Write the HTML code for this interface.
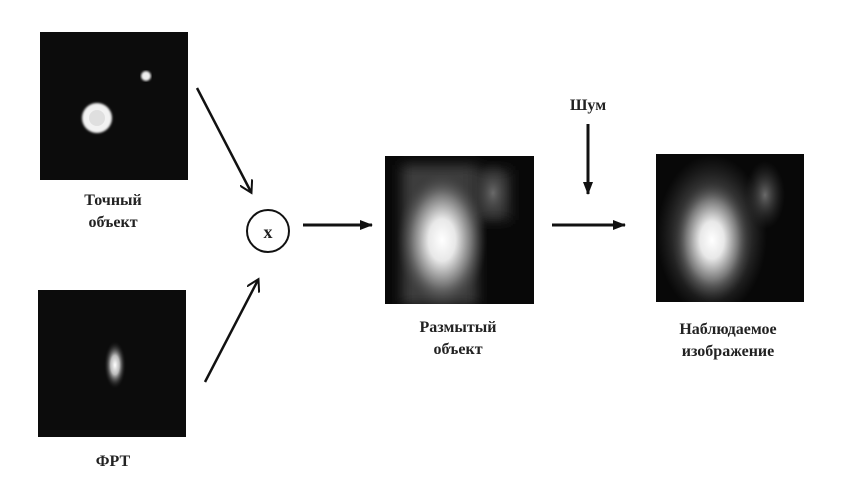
<!DOCTYPE html>
<html><head><meta charset="utf-8"><style>
html,body{margin:0;padding:0;background:#fff;}
svg{display:block;}
text{font-family:"Liberation Serif","Noto Serif CJK SC",serif;font-weight:bold;font-size:16px;fill:#222;text-anchor:middle;}
</style></head><body>
<svg width="852" height="493" viewBox="0 0 852 493">
<defs>
<radialGradient id="g1"><stop offset="0" stop-color="#fff"/><stop offset="0.3" stop-color="#e8e8e8"/><stop offset="0.65" stop-color="#777"/><stop offset="1" stop-color="#333" stop-opacity="0"/></radialGradient>
<radialGradient id="g2"><stop offset="0" stop-color="#fff"/><stop offset="0.4" stop-color="#bbb"/><stop offset="1" stop-color="#111" stop-opacity="0"/></radialGradient>
<radialGradient id="g3"><stop offset="0" stop-color="#6a6a6a"/><stop offset="1" stop-color="#333" stop-opacity="0"/></radialGradient>
<radialGradient id="g4"><stop offset="0" stop-color="#4a4a4a"/><stop offset="0.7" stop-color="#2a2a2a"/><stop offset="1" stop-color="#222" stop-opacity="0"/></radialGradient>
<filter id="bl"><feGaussianBlur stdDeviation="1"/></filter>
<filter id="bl6"><feGaussianBlur stdDeviation="6"/></filter>
<clipPath id="cb"><rect x="385" y="156" width="149" height="148"/></clipPath>
<clipPath id="co"><rect x="656" y="154" width="148" height="148"/></clipPath>
<marker id="ah" markerWidth="14" markerHeight="14" refX="11" refY="7" orient="auto" markerUnits="userSpaceOnUse"><path d="M0,0 L12,7 L0,14" fill="none" stroke="#111" stroke-width="2"/></marker>
<marker id="af" markerWidth="14" markerHeight="12" refX="12" refY="6" orient="auto" markerUnits="userSpaceOnUse"><path d="M0,1 L13,6 L0,11 Z" fill="#111"/></marker>
</defs>

<g>
<rect x="40" y="32" width="148" height="148" fill="#0c0c0c"/>
<circle cx="146" cy="76" r="5" fill="#eee" filter="url(#bl)"/>
<circle cx="97" cy="118" r="15" fill="#f2f2f2" filter="url(#bl)"/>
<circle cx="97" cy="118" r="8" fill="#ccc" opacity="0.5"/>
</g>
<text x="113" y="205">Точный</text>
<text x="113" y="227">объект</text>

<g>
<rect x="38" y="290" width="148" height="147" fill="#0c0c0c"/>
<ellipse cx="115" cy="365" rx="11" ry="24" fill="url(#g2)"/>
</g>
<text x="113" y="466">ФРТ</text>

<line x1="197" y1="88" x2="251" y2="192" stroke="#111" stroke-width="2.5" marker-end="url(#ah)"/>
<line x1="205" y1="382" x2="258" y2="280" stroke="#111" stroke-width="2.5" marker-end="url(#ah)"/>
<g>
<circle cx="268" cy="231" r="21" fill="#fff" stroke="#111" stroke-width="2"/>
<text x="268" y="238" style="font-size:18px">x</text>
</g>
<line x1="303" y1="225" x2="372" y2="225" stroke="#111" stroke-width="3" marker-end="url(#af)"/>

<g clip-path="url(#cb)">
<rect x="385" y="156" width="149" height="148" fill="#080808"/>
<g filter="url(#bl6)">
<rect x="402" y="165" width="75" height="140" fill="#3c3c3c"/>
<rect x="470" y="170" width="40" height="50" fill="#333"/>
</g>
<ellipse cx="493" cy="193" rx="20" ry="32" fill="url(#g3)"/>
<ellipse cx="442" cy="240" rx="45" ry="70" fill="url(#g1)"/>
</g>
<text x="458" y="332">Размытый</text>
<text x="458" y="354">объект</text>

<text x="588" y="110">Шум</text>
<line x1="588" y1="124" x2="588" y2="194" stroke="#111" stroke-width="3" marker-end="url(#af)"/>
<line x1="552" y1="225" x2="625" y2="225" stroke="#111" stroke-width="3" marker-end="url(#af)"/>

<g clip-path="url(#co)">
<rect x="656" y="154" width="148" height="148" fill="#080808"/>
<ellipse cx="712" cy="235" rx="55" ry="80" fill="url(#g4)"/>
<ellipse cx="765" cy="195" rx="20" ry="34" fill="url(#g3)"/>
<ellipse cx="712" cy="240" rx="40" ry="62" fill="url(#g1)"/>
</g>
<text x="728" y="334">Наблюдаемое</text>
<text x="728" y="356">изображение</text>
</svg>
</body></html>
